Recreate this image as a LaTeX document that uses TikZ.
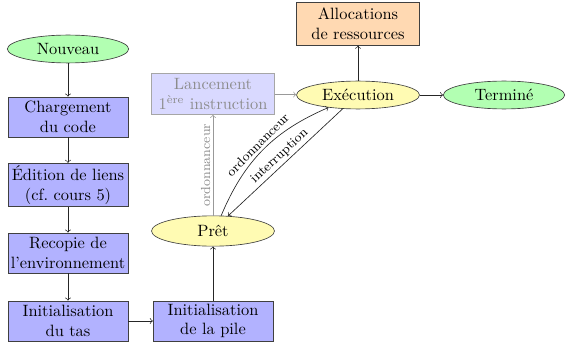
\documentclass[tikz,border=0pt]{standalone}
\usetikzlibrary{shapes.geometric}
\begin{document}
\begin{tikzpicture}[x=0.61pt,y=0.61pt,
  every node/.style={font=\normalsize},
  boxst/.style={rectangle,draw=black!75,fill=blue!30,align=center,minimum width=73pt,minimum height=24.5pt,inner sep=1.5pt},
  ovalst/.style={ellipse,draw=black!75,align=center,minimum width=74pt,minimum height=17pt,inner sep=1pt},
  arr/.style={->,draw=black!85},
  lbl/.style={font=\footnotesize,inner sep=1.5pt}]
\useasboundingbox (0,0) rectangle (566,343);
\node[ovalst,fill=green!30] (nouveau) at (68,294) {Nouveau};
\node[boxst] (charg) at (68,226) {Chargement\\du code};
\node[boxst] (edit) at (68,158) {Édition de liens\\(cf.~cours 5)};
\node[boxst] (recop) at (68,90) {Recopie de\\l'environnement};
\node[boxst] (tas) at (68,22) {Initialisation\\du tas};
\node[boxst] (pile) at (213,22) {Initialisation\\de la pile};
\node[ovalst,fill=yellow!30,minimum width=75pt,minimum height=18.5pt] (pret) at (213,112) {Prêt};
\node[boxst,draw=black!35,fill=blue!15,text=black!45,minimum width=75pt,minimum height=25pt] (lanc) at (213,249) {Lancement\\1\textsuperscript{ère} instruction};
\node[ovalst,fill=yellow!30,minimum width=75pt] (exec) at (358,248) {Exécution};
\node[ovalst,fill=green!30] (term) at (504,248) {Terminé};
\node[boxst,fill=orange!30,minimum width=75pt,minimum height=26pt] (alloc) at (358,319) {Allocations\\de ressources};
\draw[arr] (nouveau) -- (charg);
\draw[arr] (charg) -- (edit);
\draw[arr] (edit) -- (recop);
\draw[arr] (recop) -- (tas);
\draw[arr] (tas) -- (pile);
\draw[arr] (pile) -- (pret);
\draw[->,draw=black!40] (pret) -- node[lbl,above,sloped,text=black!45] {ordonnanceur} (lanc);
\draw[->,draw=black!40] (lanc) -- (exec);
\draw[arr] (exec) -- (alloc);
\draw[arr] (exec) -- (term);
\draw[arr] (pret.62) to[bend left=22] node[lbl,above,sloped] {ordonnanceur} (exec.203);
\draw[arr] (exec.222) -- node[lbl,above,sloped] {interruption} (pret.45);
\end{tikzpicture}
\end{document}
